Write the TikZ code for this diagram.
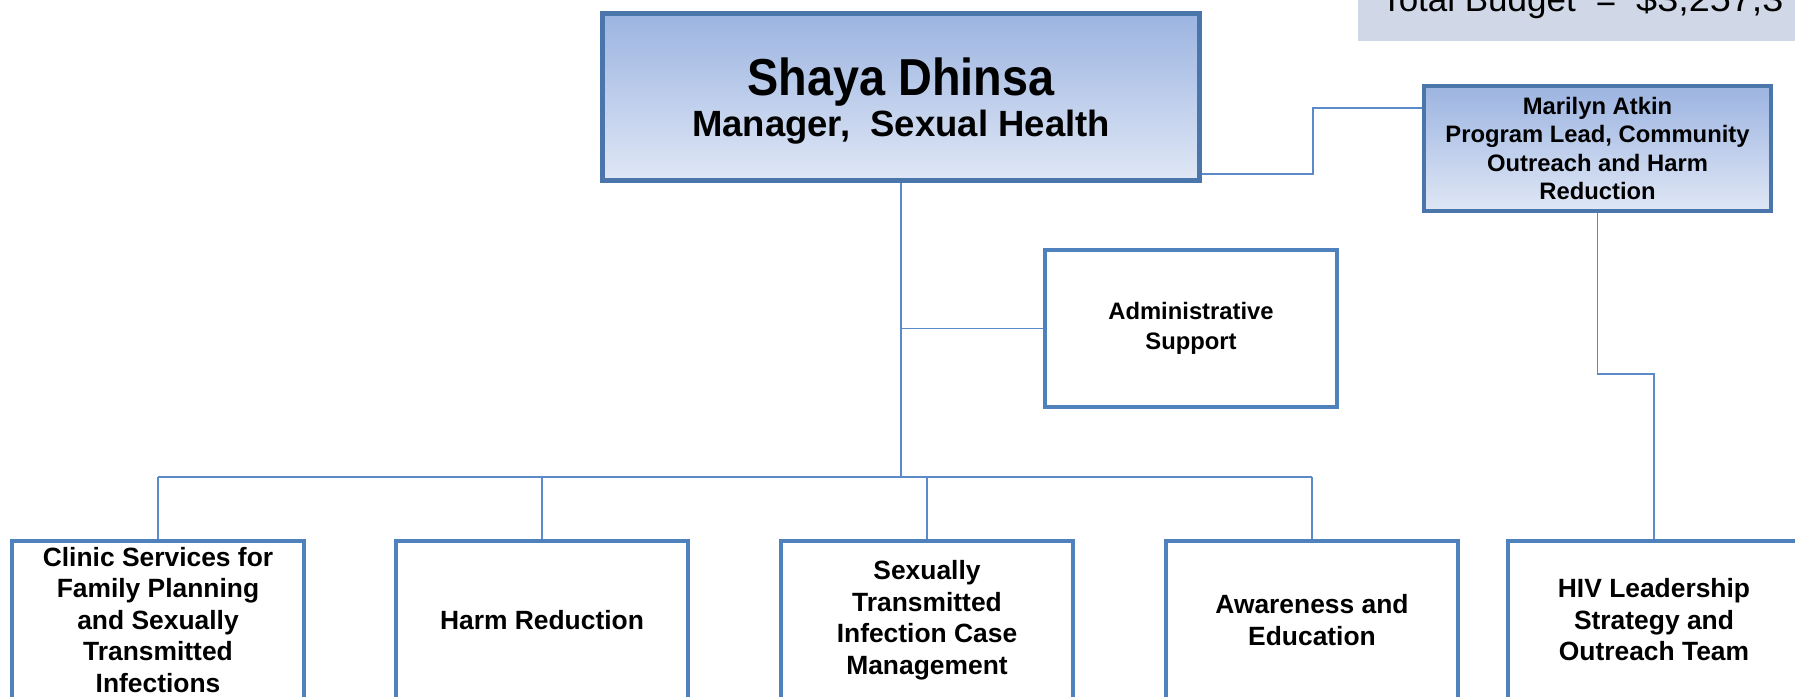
\documentclass[tikz,border=0pt]{standalone}
\usepackage{fontspec}
\usepackage{graphicx}
\setmainfont{Liberation Sans}
\definecolor{boxblue}{HTML}{4F81BD}
\definecolor{darkblue}{HTML}{4A76AB}
\definecolor{linkblue}{HTML}{5A8BC8}
\definecolor{gradtop}{HTML}{9CB4E1}
\definecolor{gradbot}{HTML}{DFE7F5}
\definecolor{budgetfill}{HTML}{D0D8E8}
\tikzset{
  whitebox/.style={draw=boxblue, line width=4pt, fill=white, align=center,
    minimum width=292pt, inner sep=2pt, font=\bfseries\fontsize{26.4}{31.5}\selectfont},
  gradbox/.style={draw=darkblue, line width=4.5pt, top color=gradtop, bottom color=gradbot,
    align=center, inner sep=2pt},
  link/.style={draw=linkblue, line width=1.8pt}
}
\begin{document}
\begin{tikzpicture}[x=1pt,y=-1pt]
\useasboundingbox (0,0) rectangle (1795,696);
\clip (0,0) rectangle (1795,696);
% budget box
\node (budget) [fill=budgetfill, anchor=north west, minimum width=460pt, minimum height=46pt, inner sep=0pt] at (1358,-5) {};
\node (budgettext) [anchor=base west, inner sep=0pt, font=\fontsize{35}{40}\selectfont] at (1381,11)
  {Total Budget\hspace{20pt}=\hspace{20pt}\scalebox{1.08}[1]{\$3,257,3}};
% main box
\node (main) [gradbox, minimum width=597pt, minimum height=167pt, font=\bfseries\fontsize{36.5}{41}\selectfont] at (901,97)
  {\rule{0pt}{46pt}\scalebox{0.9}[1]{\fontsize{52}{58}\selectfont\bfseries Shaya Dhinsa}\\
   Manager,~~Sexual Health};
% Marilyn box
\node (mar) [gradbox, minimum width=347pt, minimum height=125pt, font=\bfseries\fontsize{23.8}{28.5}\selectfont] at (1597.5,148.5)
  {Marilyn Atkin\\Program Lead, Community\\Outreach and Harm\\Reduction};
% admin box
\node (admin) [whitebox, minimum height=157pt, font=\bfseries\fontsize{23.8}{30}\selectfont] at (1191,328.5)
  {Administrative\\Support};
% bottom boxes
\node (b1) [whitebox, minimum height=158pt] at (158,620)
  {Clinic Services for\\Family Planning\\and Sexually\\Transmitted\\Infections};
\node (b2) [whitebox, minimum height=158pt] at (542,620) {Harm Reduction};
\node (b3) [whitebox, minimum height=158pt] at (927,620)
  {Sexually\\Transmitted\\Infection Case\\Management};
\node (b4) [whitebox, minimum height=158pt] at (1312,620) {Awareness and\\Education};
\node (b5) [whitebox, minimum height=158pt] at (1654,620)
  {HIV Leadership\\Strategy and\\Outreach Team};
% connector coordinates
\coordinate (busC) at (901,477);
\coordinate (busL) at (158,477);
\coordinate (busR) at (1312,477);
\coordinate (m1) at (1313,174);
\coordinate (m2) at (1313,108);
\coordinate (h1) at (1597.5,374);
\coordinate (h2) at (1654,374);
% connectors
\draw[link] (main.south) -- (busC);
\draw[link] (busL) -- (busR);
\draw[link] (main.south |- admin.west) -- (admin.west);
\draw[link] (busL) -- (b1.north);
\draw[link] (b2.north |- busC) -- (b2.north);
\draw[link] (b3.north |- busC) -- (b3.north);
\draw[link] (busR) -- (b4.north);
\draw[link] (main.east |- m1) -- (m1) -- (m2) -- (mar.west |- m2);
\draw[link] (mar.south) -- (h1) -- (h2) -- (b5.north);
\end{tikzpicture}
\end{document}
